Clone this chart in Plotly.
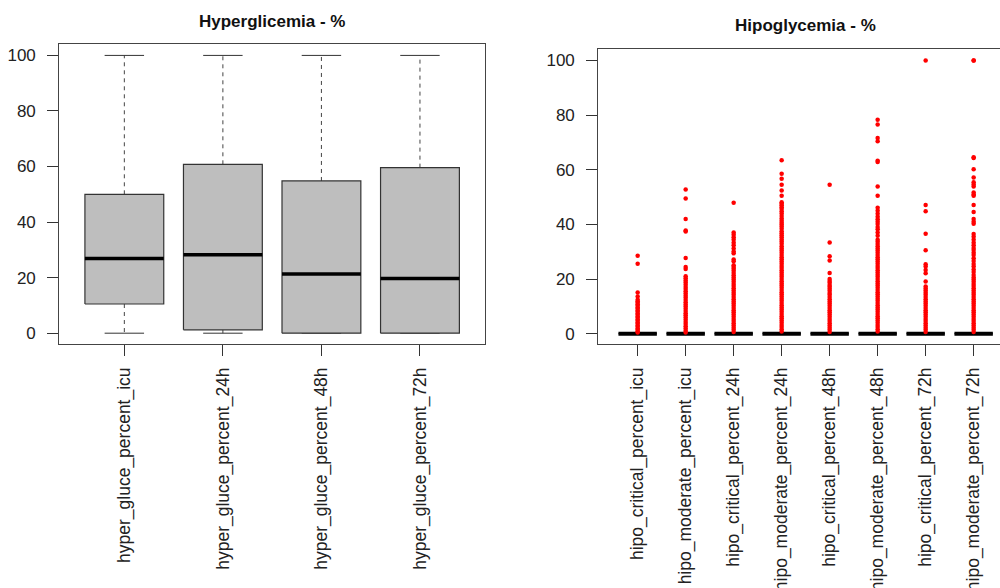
import plotly.graph_objects as go

# ---------------- data ----------------
hyper_labels = ["hyper_gluce_percent_icu", "hyper_gluce_percent_24h",
                "hyper_gluce_percent_48h", "hyper_gluce_percent_72h"]
hyper_low = [0, 0, 0, 0]
hyper_q1 = [10.5, 1.2, 0, 0]
hyper_median = [26.9, 28.2, 21.3, 19.7]
hyper_q3 = [50.0, 60.8, 54.8, 59.6]
hyper_high = [100, 100, 100, 100]

hipo_labels = ["hipo_critical_percent_icu", "hipo_moderate_percent_icu",
               "hipo_critical_percent_24h", "hipo_moderate_percent_24h",
               "hipo_critical_percent_48h", "hipo_moderate_percent_48h",
               "hipo_critical_percent_72h", "hipo_moderate_percent_72h"]
hipo_low = [0, 0, 0, 0, 0, 0, 0, 0]
hipo_q1 = [0, 0, 0, 0, 0, 0, 0, 0]
hipo_median = [0, 0, 0, 0, 0, 0, 0, 0]
hipo_q3 = [0, 0, 0, 0, 0, 0, 0, 0]
hipo_high = [0, 0, 0, 0, 0, 0, 0, 0]

out_critical_icu = [28.5, 25.6, 15.1, 13.6, 12.4, 11.9, 11.3, 10.8, 10.2, 9.6, 9.1,
                    8.5, 8.0, 7.4, 6.9, 6.3, 5.8, 5.2, 4.7, 4.1, 3.6, 3.0, 2.5,
                    1.9, 1.4, 0.9, 0.4]
out_moderate_icu = [52.8, 49.5, 42.0, 37.8, 37.4, 27.7, 24.4, 23.7, 21.0, 20.3,
                    19.5, 18.7, 17.9, 17.1, 16.3, 15.5, 14.7, 13.9, 13.1, 12.3,
                    11.5, 10.7, 9.9, 9.1, 8.3, 7.5, 6.7, 5.9, 5.1, 4.3, 3.5, 2.7,
                    1.9, 1.1, 0.4]
out_critical_24h = [47.9, 37.0, 36.2, 35.3, 34.4, 33.3, 32.4, 31.2, 30.1, 29.4,
                    27.1, 26.5, 25.0, 24.4, 23.8, 23.0, 22.2, 21.4, 20.6, 19.8,
                    19.0, 18.2, 17.4, 16.6, 15.8, 15.0, 14.2, 13.4, 12.6, 11.8,
                    11.0, 10.2, 9.4, 8.6, 7.8, 7.0, 6.2, 5.4, 4.6, 3.8, 3.0, 2.2,
                    1.4, 0.6]
out_moderate_24h = [63.5, 58.5, 56.7, 54.5, 52.4, 50.5, 48.1, 47.6, 47.0, 46.3,
                    45.6, 44.8, 44.0, 43.1, 42.2, 41.3, 40.6, 40.0, 39.2, 38.4,
                    37.5, 36.8, 36.0, 35.3, 34.5, 33.7, 32.9, 32.0, 31.2, 30.4,
                    29.6, 28.8, 28.0, 27.2, 26.4, 25.6, 24.8, 24.0, 23.2, 22.4,
                    21.6, 20.8, 20.0, 19.2, 18.4, 17.6, 16.8, 16.0, 15.2, 14.4,
                    13.6, 12.8, 12.0, 11.2, 10.4, 9.6, 8.8, 8.0, 7.2, 6.4, 5.6,
                    4.8, 4.0, 3.2, 2.4, 1.6, 0.8]
out_critical_48h = [54.5, 33.4, 28.3, 26.8, 22.2, 20.0, 19.3, 18.6, 17.8, 17.2,
                    16.4, 15.7, 14.9, 14.2, 13.4, 12.6, 11.8, 11.0, 10.2, 9.4,
                    8.6, 7.8, 7.0, 6.2, 5.4, 4.6, 3.8, 3.0, 2.2, 1.4, 0.6]
out_moderate_48h = [78.3, 76.6, 71.6, 70.4, 63.3, 62.8, 53.9, 50.5, 46.1, 45.0,
                    43.9, 42.8, 41.9, 41.0, 40.1, 39.0, 38.2, 37.0, 35.8, 34.4,
                    33.6, 32.8, 32.0, 31.2, 30.4, 29.6, 28.8, 28.0, 27.2, 26.4,
                    25.6, 24.8, 24.0, 23.2, 22.4, 21.6, 20.8, 20.0, 19.2, 18.4,
                    17.6, 16.8, 16.0, 15.2, 14.4, 13.6, 12.8, 12.0, 11.2, 10.4,
                    9.6, 8.8, 8.0, 7.2, 6.4, 5.6, 4.8, 4.0, 3.2, 2.4, 1.6, 0.8]
out_critical_72h = [100.0, 47.1, 44.8, 36.6, 30.5, 25.4, 24.6, 23.3, 22.1, 19.1,
                    17.3, 16.5, 15.8, 15.0, 14.2, 13.4, 12.6, 11.8, 11.0, 10.2,
                    9.4, 8.6, 7.8, 7.0, 6.2, 5.4, 4.6, 3.8, 3.0, 2.2, 1.4, 0.6]
out_moderate_72h = [100.0, 100.0, 64.6, 64.3, 60.2, 57.2, 55.4, 54.6, 53.9, 51.7,
                    50.9, 50.5, 47.1, 44.5, 42.0, 41.0, 40.2, 36.5, 35.5, 34.4,
                    33.3, 32.4, 31.4, 30.6, 29.6, 28.8, 27.6, 26.6, 25.5, 24.6,
                    23.5, 22.6, 21.5, 20.6, 19.8, 19.0, 18.2, 17.4, 16.6, 15.8,
                    15.0, 14.2, 13.4, 12.6, 11.8, 11.0, 10.2, 9.4, 8.6, 7.8, 7.0,
                    6.2, 5.4, 4.6, 3.8, 3.0, 2.2, 1.4, 0.6]
hipo_outliers = [out_critical_icu, out_moderate_icu, out_critical_24h,
                 out_moderate_24h, out_critical_48h, out_moderate_48h,
                 out_critical_72h, out_moderate_72h]

y_ticks = [0, 20, 40, 60, 80, 100]

# ---------------- styling ----------------
FONT = "Liberation Sans, Arial, Helvetica, sans-serif"
BOX_FILL = "#bebebe"
BOX_LINE = "#333333"
FRAME = "#444444"
TXT = "#222222"
W, H = 1000, 588


def add_boxes(fig, xa, ya, low, q1, med, q3, high, fill, med_width):
    for i in range(len(med)):
        c = i + 1
        # dashed whiskers
        wx, wy = [], []
        if high[i] > q3[i]:
            wx += [c, c, None]
            wy += [q3[i], high[i], None]
        if q1[i] > low[i]:
            wx += [c, c, None]
            wy += [q1[i], low[i], None]
        if wx:
            fig.add_trace(go.Scatter(x=wx, y=wy, xaxis=xa, yaxis=ya, mode="lines",
                                     line=dict(color="#444444", width=1, dash="4px,4px"),
                                     hoverinfo="skip", showlegend=False))
        # caps
        fig.add_trace(go.Scatter(x=[c - 0.2, c + 0.2, None, c - 0.2, c + 0.2],
                                 y=[high[i], high[i], None, low[i], low[i]],
                                 xaxis=xa, yaxis=ya, mode="lines",
                                 line=dict(color=BOX_LINE, width=1),
                                 hoverinfo="skip", showlegend=False))
        # box
        fig.add_trace(go.Scatter(x=[c - 0.4, c + 0.4, c + 0.4, c - 0.4, c - 0.4],
                                 y=[q1[i], q1[i], q3[i], q3[i], q1[i]],
                                 xaxis=xa, yaxis=ya, mode="lines",
                                 fill="toself" if fill else None, fillcolor=BOX_FILL,
                                 line=dict(color=BOX_LINE, width=1.2),
                                 hoverinfo="skip", showlegend=False))
        # median
        fig.add_trace(go.Scatter(x=[c - 0.4, c + 0.4], y=[med[i], med[i]],
                                 xaxis=xa, yaxis=ya, mode="lines",
                                 line=dict(color="#000000", width=med_width),
                                 hoverinfo="skip", showlegend=False))


fig = go.Figure()
add_boxes(fig, "x", "y", hyper_low, hyper_q1, hyper_median, hyper_q3, hyper_high,
          True, 3.5)
add_boxes(fig, "x2", "y2", hipo_low, hipo_q1, hipo_median, hipo_q3, hipo_high,
          True, 4)

# outliers
for i, vals in enumerate(hipo_outliers):
    fig.add_trace(go.Scatter(x=[i + 1] * len(vals), y=vals, xaxis="x2", yaxis="y2",
                             mode="markers",
                             marker=dict(color="#ff0000", size=4.5, line=dict(width=0)),
                             name=hipo_labels[i], showlegend=False))

# ---------------- layout ----------------
def px_x(p):
    return p / W


def px_y(p):
    return 1 - p / H


axis_common = dict(showgrid=False, zeroline=False, showline=True, linecolor=FRAME,
                   linewidth=1.2, ticks="outside", ticklen=11, tickwidth=1,
                   tickcolor="#333333", automargin=False,
                   tickfont=dict(family=FONT, size=17, color=TXT))
xtickfont = dict(family=FONT, size=17.5, color=TXT)

fig.update_layout(
    width=W, height=H, autosize=False,
    margin=dict(l=0, r=0, t=0, b=0, pad=0, autoexpand=False),
    paper_bgcolor="white", plot_bgcolor="white",
    showlegend=False,
    xaxis=dict(axis_common, domain=[px_x(59.3), px_x(485)], range=[0.34, 4.66],
               tickvals=[1, 2, 3, 4], ticktext=hyper_labels, tickangle=-90,
               tickfont=xtickfont, mirror=True, anchor="y", ticklabelstandoff=4),
    yaxis=dict(axis_common, domain=[px_y(344.3), px_y(44.3)], range=[-4, 104],
               tickvals=y_ticks, mirror=True, anchor="x", ticklabelstandoff=8),
    xaxis2=dict(axis_common, domain=[px_x(598.3), 1.0], range=[0.18, 8.549],
                tickvals=[1, 2, 3, 4, 5, 6, 7, 8], ticktext=hipo_labels,
                tickangle=-90, tickfont=xtickfont, mirror=True, anchor="y2",
                ticklabelstandoff=4),
    yaxis2=dict(axis_common, domain=[px_y(344.3), px_y(49.3)], range=[-3.9, 104.1],
                tickvals=y_ticks, mirror=False, anchor="x2", ticklabelstandoff=8),
    annotations=[
        dict(text="<b>Hyperglicemia - %</b>", x=px_x(272), y=px_y(21.5),
             xref="paper", yref="paper", xanchor="center", yanchor="middle",
             showarrow=False, font=dict(family=FONT, size=17, color="#111111")),
        dict(text="<b>Hipoglycemia - %</b>", x=px_x(805), y=px_y(25.5),
             xref="paper", yref="paper", xanchor="center", yanchor="middle",
             showarrow=False, font=dict(family=FONT, size=17, color="#111111")),
    ],
)

fig.write_html("out.html", config={"displayModeBar": False},
               post_script="document.body.style.margin='0';"
                           "document.body.style.overflow='hidden';")
